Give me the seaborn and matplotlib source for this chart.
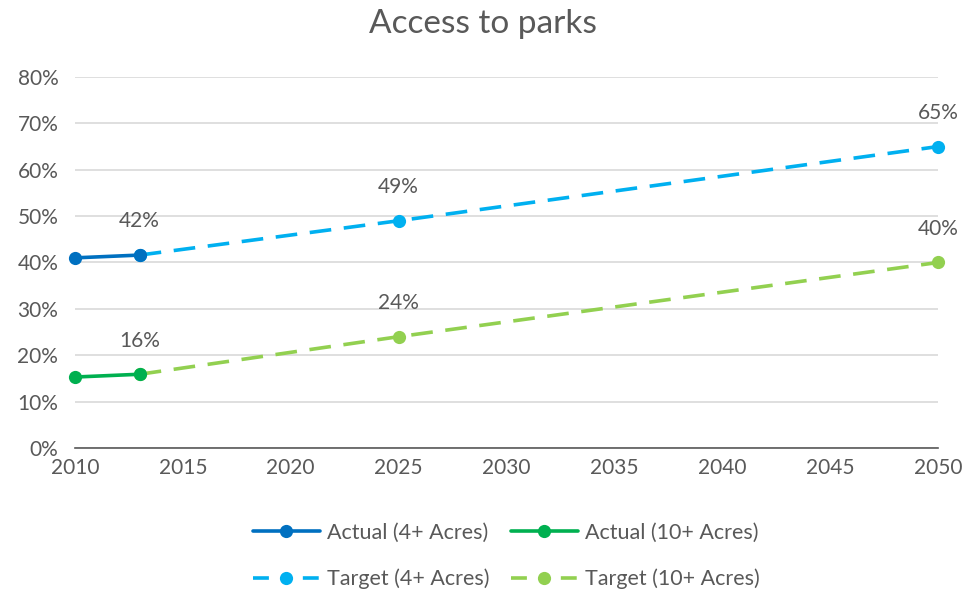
import numpy as np
import pandas as pd
import seaborn as sns
from matplotlib import pyplot as plt

# data
actual_years = [2010, 2013]
actual_4 = [0.41, 0.416]
actual_10 = [0.153, 0.159]

target_years = [2013, 2025, 2050]
target_4 = [0.416, 0.49, 0.65]
target_10 = [0.159, 0.24, 0.40]

series = [
    ("Actual (4+ Acres)", actual_years, actual_4, "#0070C0", "-"),
    ("Target (4+ Acres)", target_years, target_4, "#00B0F0", "--"),
    ("Actual (10+ Acres)", actual_years, actual_10, "#00B050", "-"),
    ("Target (10+ Acres)", target_years, target_10, "#92D050", "--"),
]

# (x, y) of the points that carry a data label
labelled = [
    (2013, actual_4[1]), (2025, target_4[1]), (2050, target_4[2]),
    (2013, actual_10[1]), (2025, target_10[1]), (2050, target_10[2]),
]

sns.set_theme(style="white")
plt.rcParams['font.family'] = ['Lato', 'DejaVu Sans']
text_col = "#595959"

fig = plt.figure(figsize=(9.66, 5.9), dpi=100)
ax = fig.add_axes([0.0776, 0.2407, 0.8934, 0.6288])

for name, xs, ys, col, ls in series:
    df = pd.DataFrame({"year": xs, "value": ys})
    sns.lineplot(data=df, x="year", y="value", ax=ax, color=col, linewidth=2.6,
                 marker="o", markersize=9.5, markeredgewidth=0, label=name)
    line = ax.lines[-1]
    line.set_clip_on(False)
    if ls == "--":
        line.set_dashes((6, 3.5))
        line.set_zorder(3)
    else:
        line.set_zorder(4)

for x, y in labelled:
    ax.annotate(f"{round(y * 100):.0f}%", (x, y), xytext=(0, 17), textcoords="offset points",
                ha="center", va="bottom", fontsize=15, color=text_col)

ax.set_xlim(2010, 2050)
ax.set_ylim(0, 0.8)
ax.set_xticks(np.arange(2010, 2051, 5))
ax.set_yticks(np.arange(0, 0.81, 0.1))
ax.set_yticklabels([f"{v}%" for v in range(0, 81, 10)])
ax.tick_params(axis="both", length=0, labelsize=15, labelcolor=text_col)
ax.tick_params(axis="x", pad=7)
ax.tick_params(axis="y", pad=12)
ax.yaxis.grid(True, color="#D9D9D9", linewidth=1.2)
ax.set_axisbelow(True)
for side in ["top", "right", "left"]:
    ax.spines[side].set_visible(False)
ax.spines["bottom"].set_color("#595959")
ax.spines["bottom"].set_linewidth(1.2)
ax.set_xlabel("")
ax.set_ylabel("")

fig.text(0.5, 0.96, "Access to parks", ha="center", va="center", fontsize=24, color=text_col)

handles, labels = ax.get_legend_handles_labels()
leg = ax.legend(handles, labels, ncol=2, loc="upper center", bbox_to_anchor=(0.5, -0.15),
                frameon=False, fontsize=15.5, labelcolor=text_col, handlelength=3.1,
                handletextpad=0.35, columnspacing=1.0, labelspacing=1.2)
# dashed legend keys look like "- o -" in the reference
for legline, (_, _, _, _, ls) in zip(leg.get_lines(), series):
    if ls == "--":
        legline.set_dashes((4.4, 9.4))

fig.savefig("out.png", dpi=100)
